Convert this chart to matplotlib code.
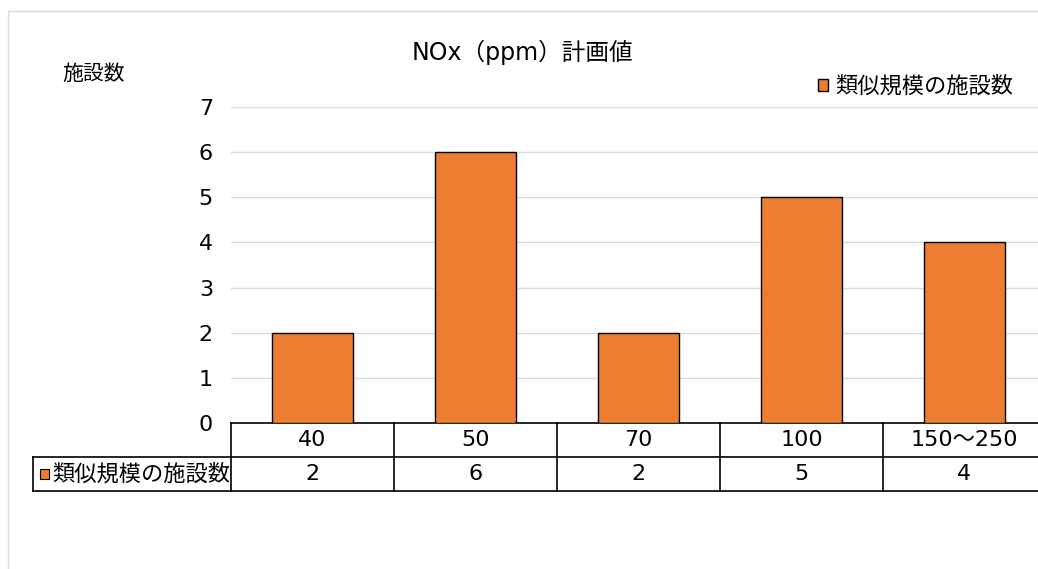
import numpy as np
import matplotlib.pyplot as plt
import matplotlib.transforms as mtransforms
from matplotlib.patches import Rectangle

plt.rcParams['font.family'] = ['DejaVu Sans', 'Noto Sans CJK JP']

categorias = ['40', '50', '70', '100', '150～250']
施設数 = [2, 6, 2, 5, 4]
serie = '類似規模の施設数'
titulo = 'NOx（ppm）計画値'
naranja = '#ED7D31'

fig = plt.figure(figsize=(10.38, 5.69), dpi=100)
W, H = 1038, 569

# marco gris del gráfico (cortado a la derecha y abajo)
fig.patches.append(Rectangle((8 / W, -0.1), 1.2, 1 - 11 / H + 0.1, transform=fig.transFigure,
                             fill=False, edgecolor='#D9D9D9', linewidth=1))

ax = fig.add_axes([231 / W, 1 - 423 / H, 815 / W, 316 / H])
x = np.arange(len(categorias))
ax.bar(x, 施設数, width=0.5, color=naranja, edgecolor='black', linewidth=1, zorder=3, label=serie)
ax.set_xlim(-0.5, len(categorias) - 0.5)
ax.set_ylim(0, 7)
ax.set_yticks(range(0, 8))
ax.yaxis.grid(True, color='#D9D9D9', linewidth=1)
ax.tick_params(axis='y', length=0, pad=13, labelsize=16)
ax.tick_params(axis='x', bottom=False, labelbottom=False)
for s in ax.spines.values():
    s.set_visible(False)

# tabla de datos
trans = mtransforms.blended_transform_factory(ax.transData, ax.transAxes)
fila = 34 / 316
izq = -198 / 815
n = len(categorias)
kw = dict(color='black', linewidth=1.2, clip_on=False)
ax.plot([-0.5, n - 0.5], [0, 0], transform=trans, **kw)
ax.plot([-0.5, n - 0.5], [-fila, -fila], transform=trans, **kw)
ax.plot([-0.5, n - 0.5], [-2 * fila, -2 * fila], transform=trans, **kw)
ax.plot([izq, 0], [-fila, -fila], transform=ax.transAxes, **kw)
ax.plot([izq, 0], [-2 * fila, -2 * fila], transform=ax.transAxes, **kw)
ax.plot([izq, izq], [-fila, -2 * fila], transform=ax.transAxes, **kw)
for i in range(n + 1):
    ax.plot([i - 0.5, i - 0.5], [0, -2 * fila], transform=trans, **kw)
for i, (c, v) in enumerate(zip(categorias, 施設数)):
    ax.text(i, -fila / 2, c, transform=trans, ha='center', va='center', fontsize=16)
    ax.text(i, -1.5 * fila, str(v), transform=trans, ha='center', va='center', fontsize=16)
ax.add_patch(Rectangle((izq + 7 / 815, -1.5 * fila - 5 / 316), 9 / 815, 10 / 316, transform=ax.transAxes,
                       facecolor=naranja, edgecolor='black', linewidth=0.8, clip_on=False))
ax.text(izq + 19 / 815, -1.5 * fila, serie, transform=ax.transAxes, ha='left', va='center',
        fontsize=16, family=['Noto Sans CJK JP'])

# título, etiqueta del eje y leyenda
fig.text(522 / W, 1 - 52 / H, titulo, ha='center', va='center', fontsize=17)
fig.text(62 / W, 1 - 74 / H, '施設数', ha='left', va='center', fontsize=15, family=['Noto Sans CJK JP'])
fig.legend(loc='center right', bbox_to_anchor=(1024 / W, 1 - 86 / H), frameon=False,
           prop={'family': 'Noto Sans CJK JP', 'size': 16},
           handlelength=0.45, handleheight=0.45, handletextpad=0.3, borderpad=0)

fig.savefig('out.png', dpi=100)
